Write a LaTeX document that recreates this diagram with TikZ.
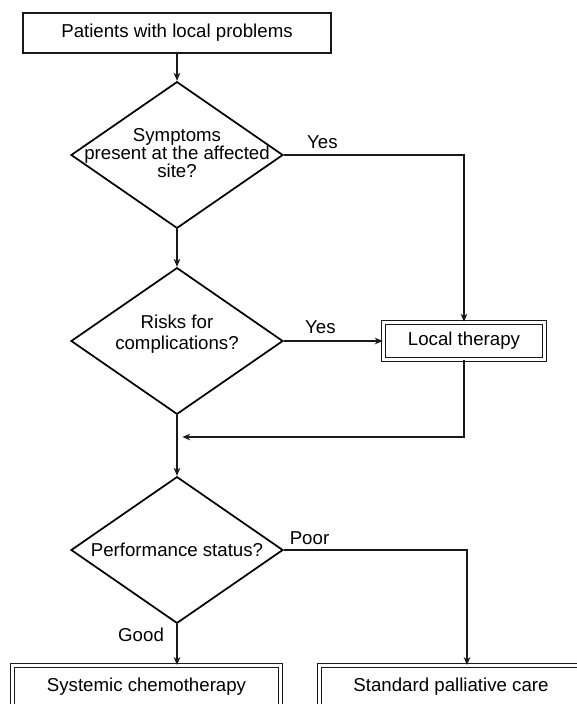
\documentclass[tikz,border=0pt]{standalone}
\usepackage{fontspec}
\setmainfont{Liberation Sans}
\usetikzlibrary{arrows.meta,shapes.geometric,positioning}

\begin{document}
\begin{tikzpicture}[x=0.75pt,y=-0.75pt,>={Stealth[length=6pt,width=5pt]},
    every node/.style={font=\fontsize{14}{13.5}\selectfont},
    line/.style={draw=black!90,line width=1pt},
    startbox/.style={draw=black!90,line width=1.2pt,minimum width=231pt,
      minimum height=30pt,inner sep=0pt},
    decision/.style={diamond,draw=black,line width=1.3pt,
      minimum width=159pt,minimum height=110pt,inner sep=0pt},
    actionbox/.style={draw=black!90,line width=0.9pt,double,
      double distance=1.8pt,inner sep=0pt},
    qtext/.style={align=center}]
  \useasboundingbox (0,0) rectangle (577,704);
  \clip (0,0) rectangle (577,704);

  \node[startbox] (start) at (177,33) {Patients with local problems};
  \node[decision,label={[qtext,yshift=1.5pt]center:{Symptoms\\present at the affected\\site?}}]
    (sympt) at (177,155) {};
  \node[decision,label={[qtext,yshift=5pt,font=\fontsize{14}{16}\selectfont]center:{Risks for\\complications?}}]
    (risk) at (177,341) {};
  \node[decision,label={center:Performance status?}] (perf) at (177,550) {};
  \node[actionbox,minimum width=121pt,minimum height=28pt] (local) at (464,341) {Local therapy};
  \node[actionbox,minimum width=201pt,minimum height=32pt] (chemo) at (146.5,687)
    {Systemic chemotherapy};
  \node[actionbox,minimum width=197pt,minimum height=32pt] (care) at (451,687)
    {Standard palliative care};
  \coordinate (merge) at (177,437);

  % main line
  \draw[line,->] (start) -- (sympt);
  \draw[line,->] (sympt) -- (risk);
  \draw[line,->] (risk) -- (perf);
  \draw[line,->] (perf.south) -- node[pos=0.25,left=6pt] {Good} (perf.south |- chemo.north);

  % branches
  \draw[line,->] (sympt.east) -| node[pos=0.107,above=1pt] {Yes} (local.north);
  \draw[line,->] (risk.east) -- node[pos=0.37,above=2pt] {Yes} (local.west);
  \draw[line,->] (local.south) |- ([xshift=4pt]merge);
  \draw[line,->] (perf.east) -| node[pos=0.07,above] {Poor} ([xshift=12pt]care.north);
\end{tikzpicture}
\end{document}
